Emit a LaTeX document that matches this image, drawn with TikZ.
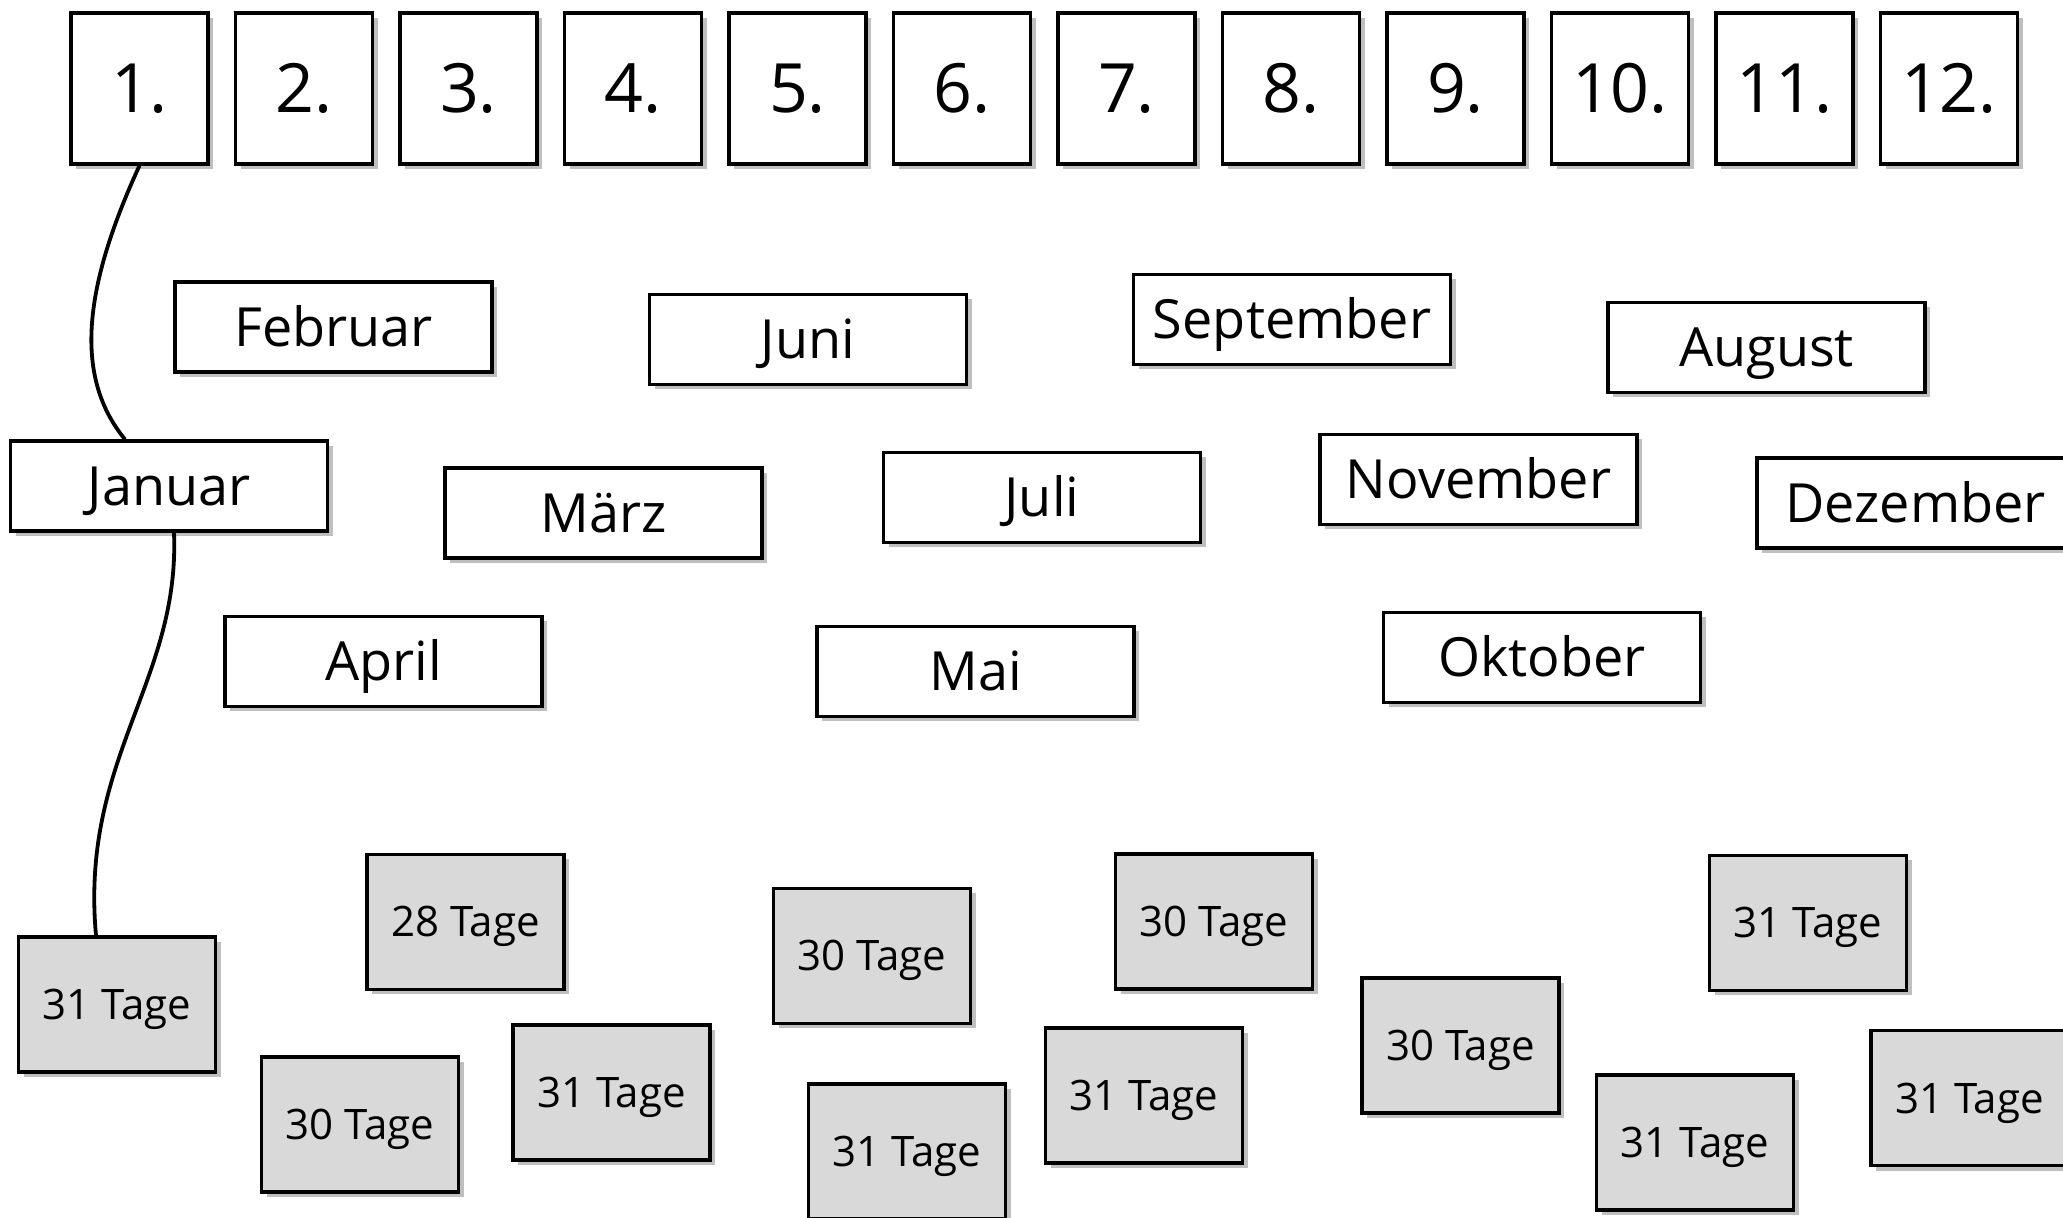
\documentclass[tikz,border=0pt]{standalone}
\usepackage{fontspec}
\setmainfont{Open Sans}
\usetikzlibrary{shadows}
\definecolor{cardgray}{HTML}{D9D9D9}
\tikzset{
  card/.style={draw=black, line width=1.6pt, fill=white, inner sep=0pt, text depth=0pt,
    drop shadow={shadow xshift=2.5pt, shadow yshift=-2.5pt, opacity=0.25, fill=black}},
  numcard/.style={card, minimum width=68.5pt, minimum height=75.5pt, text height=24.3pt, font=\fontsize{34}{40}\selectfont},
  monthcard/.style={card, minimum width=158.5pt, minimum height=45pt, text height=19.3pt, font=\fontsize{27}{32}\selectfont},
  daycard/.style={card, fill=cardgray, minimum width=98.5pt, minimum height=67.5pt, text height=15pt, font=\fontsize{21}{25}\selectfont},
  link/.style={draw=black, line width=1.9pt}
}
\begin{document}
\begin{tikzpicture}[x=0.5pt, y=-0.5pt]
\useasboundingbox (0,0) rectangle (2063,1218);
\fill[white] (0,0) rectangle (2063,1218);
% number cards
\foreach \i in {1,...,12}{
  \node[numcard] (n\i) at ({139.5+164.5*(\i-1)}, 88.5) {\i.};
}
% month cards
\node[monthcard] (feb) at (333.5, 327)   {Februar};
\node[monthcard] (jun) at (808, 339.5)   {Juni};
\node[monthcard] (sep) at (1292, 319.5)  {September};
\node[monthcard] (aug) at (1766.5, 347.5){August};
\node[monthcard] (jan) at (169, 486)     {Januar};
\node[monthcard] (mar) at (603.5, 513)   {März};
\node[monthcard] (jul) at (1042, 497.5)  {Juli};
\node[monthcard] (nov) at (1478.5, 479.5){November};
\node[monthcard] (dez) at (1915.5, 503)  {Dezember};
\node[monthcard] (apr) at (383.5, 661.5) {April};
\node[monthcard] (mai) at (975.5, 671.5) {Mai};
\node[monthcard] (okt) at (1542, 657.5)  {Oktober};
% day cards
\node[daycard] (t1)  at (117, 1004.5)   {31 Tage};
\node[daycard] (t2)  at (465.5, 922)    {28 Tage};
\node[daycard] (t3)  at (360, 1124.5)   {30 Tage};
\node[daycard] (t4)  at (611.5, 1092.5) {31 Tage};
\node[daycard] (t5)  at (872, 956)      {30 Tage};
\node[daycard] (t6)  at (907, 1151.5)   {31 Tage};
\node[daycard] (t7)  at (1214, 921.5)   {30 Tage};
\node[daycard] (t8)  at (1144, 1095.5)  {31 Tage};
\node[daycard] (t9)  at (1460.5, 1045.5){30 Tage};
\node[daycard] (t10) at (1808, 923)     {31 Tage};
\node[daycard] (t11) at (1695, 1142.5)  {31 Tage};
\node[daycard] (t12) at (1969.5, 1098)  {31 Tage};
% connectors
\draw[link] (n1.south) .. controls +(-58,126) and +(-50,-61) .. ([xshift=-22pt]jan.north);
\draw[link] ([xshift=2.5pt]jan.south) .. controls +(6,149) and +(-16,-177) .. ([xshift=-10.5pt]t1.north);
\end{tikzpicture}
\end{document}
